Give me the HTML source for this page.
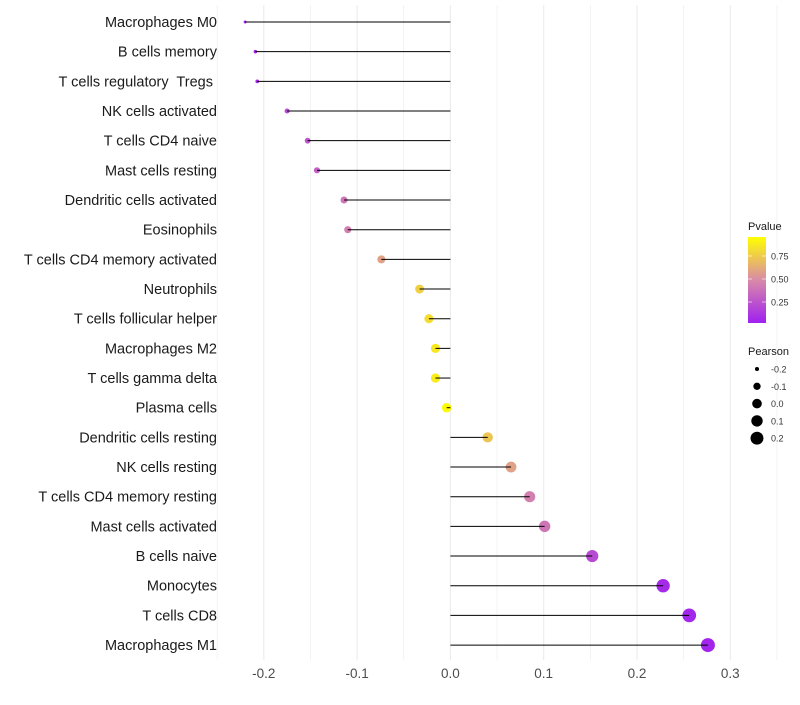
<!DOCTYPE html>
<html><head><meta charset="utf-8"><style>
body{margin:0;background:#fff;font-family:"Liberation Sans",sans-serif}
text{white-space:pre}
</style></head><body>
<svg id="chart" width="800" height="700" xmlns="http://www.w3.org/2000/svg">
<defs><linearGradient id="pg" x1="0" y1="1" x2="0" y2="0">
<stop offset="0" stop-color="#A020F0"/><stop offset="0.5" stop-color="#D98AA8"/><stop offset="1" stop-color="#FFFF00"/></linearGradient></defs>
<g id="grid"></g><g id="dots"></g><g id="marks"></g><g id="labels"></g><g id="legend"></g>
</svg>
<script>
const categories=["Macrophages M0","B cells memory","T cells regulatory  Tregs ","NK cells activated","T cells CD4 naive","Mast cells resting","Dendritic cells activated","Eosinophils","T cells CD4 memory activated","Neutrophils","T cells follicular helper","Macrophages M2","T cells gamma delta","Plasma cells","Dendritic cells resting","NK cells resting","T cells CD4 memory resting","Mast cells activated","B cells naive","Monocytes","T cells CD8","Macrophages M1"];
const pearson=[-0.22,-0.209,-0.207,-0.175,-0.153,-0.143,-0.114,-0.11,-0.074,-0.033,-0.023,-0.016,-0.016,-0.004,0.04,0.065,0.085,0.101,0.152,0.228,0.256,0.276];
const pvalue=[0.03,0.04,0.05,0.2,0.25,0.3,0.4,0.45,0.6,0.8,0.85,0.9,0.92,0.98,0.75,0.6,0.45,0.4,0.2,0.05,0.03,0.02];
const xTicks=[-0.2,-0.1,0.0,0.1,0.2,0.3];
const xTickLabels=["-0.2","-0.1","0.0","0.1","0.2","0.3"];
const sizeLegend=[-0.2,-0.1,0.0,0.1,0.2];
const pLegend=[0.25,0.5,0.75];

const NS="http://www.w3.org/2000/svg";
const x=v=>450.4+v*933;
const y=i=>22+i*29.67;
const r=v=>Math.sqrt(Math.max(0.5,2.25+94.3*(v+0.22)));
function mix(a,b,t){return a.map((c,i)=>Math.round(c+(b[i]-c)*t));}
function col(p){const A=[160,32,240],M=[217,138,168],B=[255,255,0];
 const c=p<0.5?mix(A,M,p/0.5):mix(M,B,(p-0.5)/0.5);return `rgb(${c})`;}
function mk(tag,attrs,parent,text){const e=document.createElementNS(NS,tag);for(const k in attrs)e.setAttribute(k,attrs[k]);if(text!==undefined)e.textContent=text;parent.appendChild(e);return e;}
const grid=document.getElementById('grid'),dots=document.getElementById('dots'),marks=document.getElementById('marks'),labels=document.getElementById('labels'),legend=document.getElementById('legend');
for(let v=-0.25;v<=0.351;v+=0.05){const e=mk('line',{x1:x(v),x2:x(v),y1:5,y2:660,stroke:'#ebebeb','stroke-width':Math.abs(Math.round(v*20))%2===0?1.1:0.6},grid);

}
xTicks.forEach((v,i)=>{const t=mk('text',{x:x(v),y:678,'text-anchor':'middle','font-size':13.5,fill:'#4d4d4d'},labels,xTickLabels[i]);

});
categories.forEach((c,i)=>{
 const t=mk('text',{x:217,y:y(i)+5,'text-anchor':'end','font-size':14.5,fill:'#1a1a1a'},labels,c);
 
 
 const d=mk('circle',{cx:x(pearson[i]),cy:y(i),r:r(pearson[i]),fill:col(pvalue[i])},dots);
 
 
 const l=mk('line',{x1:x(0),x2:x(pearson[i]),y1:y(i),y2:y(i),stroke:'#000','stroke-width':1},marks);
 
 
});
let t=mk('text',{x:748,y:230,'font-size':11,fill:'#1a1a1a'},legend,'Pvalue');


let bar=mk('rect',{x:748,y:237,width:18,height:86,fill:'url(#pg)'},legend);


pLegend.forEach(p=>{const yy=325-p*92;
 mk('line',{x1:748,x2:752,y1:yy,y2:yy,stroke:'#fff','stroke-opacity':0.6},legend);
 mk('line',{x1:762,x2:766,y1:yy,y2:yy,stroke:'#fff','stroke-opacity':0.6},legend);
 const l=mk('text',{x:771,y:yy+3.5,'font-size':9,fill:'#333'},legend,p.toFixed(2));
 
 });
t=mk('text',{x:748,y:355,'font-size':11,fill:'#1a1a1a'},legend,'Pearson');


sizeLegend.forEach((v,i)=>{const yy=369+i*17.3;
 const c=mk('circle',{cx:757,cy:yy,r:r(v),fill:'#000'},legend);
 
 
 const l=mk('text',{x:771,y:yy+3.5,'font-size':9,fill:'#333'},legend,v.toFixed(1));
 
 });
</script>
</body></html>
